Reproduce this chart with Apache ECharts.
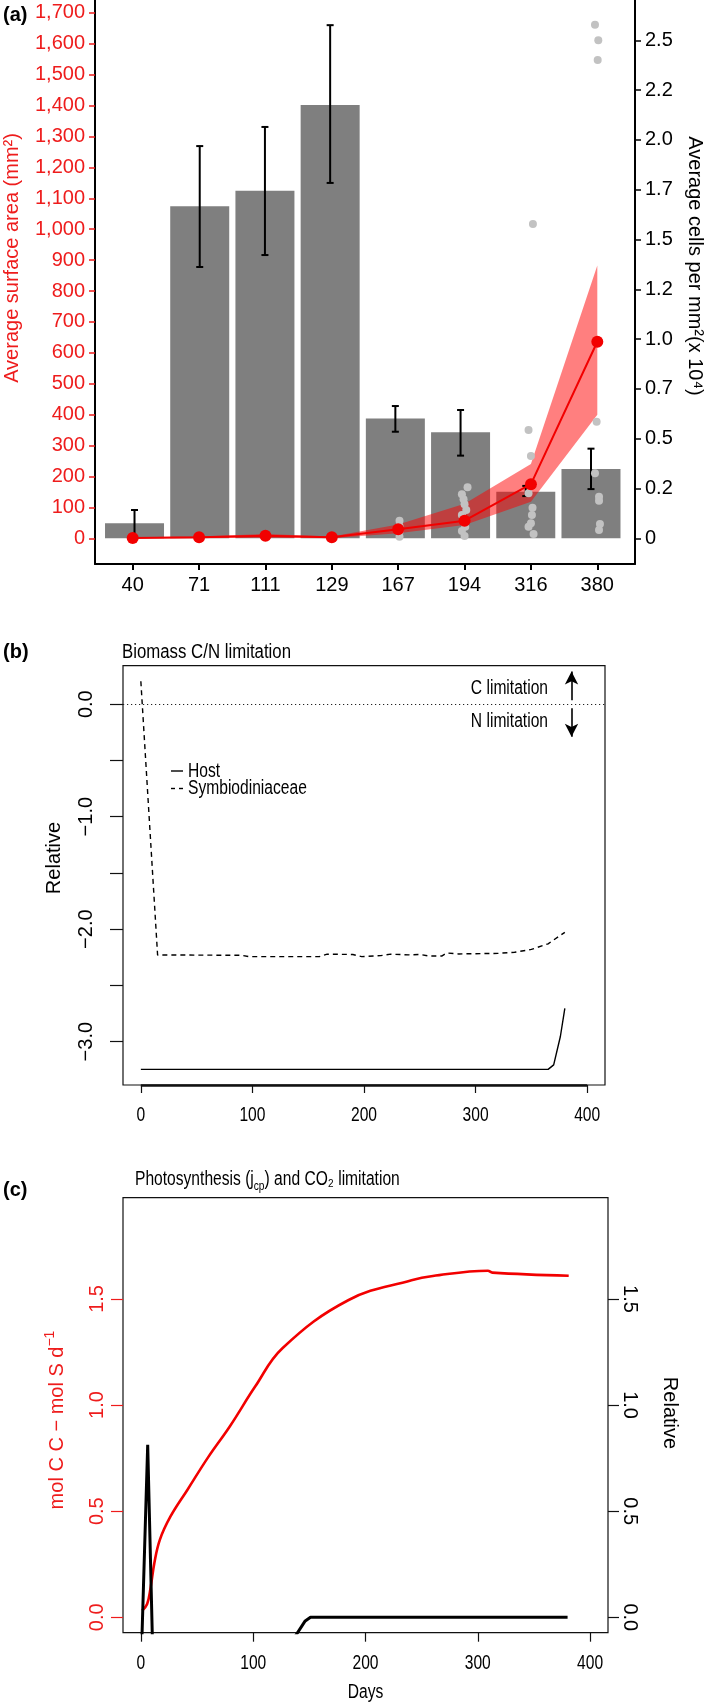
<!DOCTYPE html>
<html><head><meta charset="utf-8">
<script src="https://cdn.jsdelivr.net/npm/echarts@6.0.0/dist/echarts.min.js"></script>
<style>html,body{margin:0;padding:0;background:#fff}#c{width:709px;height:1703px}</style>
</head><body><div id="c"></div>
<script>
// ---------- Panel (a) ----------
const categories = ['40','71','111','129','167','194','316','380'];
const cellsMean  = [0.075,1.667,1.745,2.175,0.602,0.532,0.234,0.348];
const cellsLower = [0.005,1.362,1.422,1.784,0.535,0.415,0.212,0.247];
const cellsUpper = [0.142,1.969,2.065,2.576,0.664,0.644,0.263,0.450];
const areaMean   = [1,3,8,3,29,57,175,636];
const areaLower  = [0,0,2,0,16,43,118,400];
const areaUpper  = [3,6,14,6,45,112,240,883];
const pointGroup  = [4,4,4,4, 5,5,5,5,5,5,5,5,5, 6,6,6,6,6,6,6,6,6, 7,7,7,7,7,7,7,7,7];
const pointJitter = [0.02,0.02,0.02,0.02, 0.045,-0.04,-0.015,0,0.026,-0.04,0.01,-0.04,0,
                     0.03,-0.036,0,-0.036,0.024,0.015,0,-0.036,0.04,
                     -0.035,0.015,0.006,-0.01,-0.035,0.026,0.026,0.04,0.026];
const pointCells  = [0.088,0.06,0.033,0.008, 0.256,0.221,0.196,0.171,0.142,0.117,0.058,0.037,0.012,
                     1.578,0.544,0.413,0.226,0.154,0.117,0.075,0.058,0.022,
                     2.578,2.5,2.401,0.585,0.326,0.209,0.189,0.072,0.042];
const areaTicks = [0,100,200,300,400,500,600,700,800,900,1000,1100,1200,1300,1400,1500,1600,1700];
const areaTickLabels = ['0','100','200','300','400','500','600','700','800','900','1,000','1,100','1,200','1,300','1,400','1,500','1,600','1,700'];
const cellTicks = [0,0.25,0.5,0.75,1,1.25,1.5,1.75,2,2.25,2.5];
const cellTickLabels = ['0','0.2','0.5','0.7','1.0','1.2','1.5','1.7','2.0','2.2','2.5'];

// ---------- Panel (b) ----------
const hostDays = [0,365,370,376,380];
const hostRel  = [-3.246,-3.246,-3.206,-2.954,-2.703];
const symbDays = [0,15,90,97,160,167,190,198,215,224,240,250,258,270,274,285,320,335,350,365,380];
const symbRel  = [0.204,-2.229,-2.232,-2.244,-2.244,-2.222,-2.225,-2.244,-2.235,-2.222,-2.228,-2.225,-2.238,-2.238,-2.212,-2.22,-2.215,-2.205,-2.18,-2.13,-2.028];
const dayTicks = [0,100,200,300,400];
const dayTickLabels = ['0','100','200','300','400'];
const bRelTicks = [-3,-2.5,-2,-1.5,-1,-0.5,0];
const bRelLabelValues = [-3,-2,-1,0];
const bRelLabels = ['\u22123.0','\u22122.0','\u22121.0','0.0'];

// ---------- Panel (c) ----------
const photoDays = [1,5.5,8.5,11.9,16.8,26.3,41.3,60.2,79.1,101.7,126,185,241,260,309,313,381];
const photoRate = [0.031,0.063,0.137,0.255,0.365,0.475,0.600,0.757,0.899,1.087,1.268,1.495,1.588,1.608,1.633,1.624,1.609];
const co2Days = [0,6,12,130,146,151,380];
const co2Rel  = [-0.25,0.813,-0.5,-0.15,-0.019,0,0];
const cTicks = [0,0.5,1,1.5];
const cTickLabels = ['0.0','0.5','1.0','1.5'];

const FONT = "'Liberation Sans', Arial, Helvetica, sans-serif";
const RED = '#ee1c1c';
const LINE_RED = '#f20000';
const SQ = 0.78;   // horizontal squeeze of panels (b) and (c) text

const chart = echarts.init(document.getElementById('c'), null, {renderer:'canvas', width:709, height:1703});

const A = {left:95, top:0, width:540, height:564};
const B = {left:123, top:665.7, width:482, height:419.3};
const C = {left:123, top:1197.7, width:485, height:435};
const bYMin = -3.385, bYMax = 0.342;
const cYMin = -0.0726, cYMax = 1.977;

function lbl(color){ return {fontFamily:FONT, fontSize:20, color:color||'#000'}; }

function tickLabelSeries(xi, yi, yMin, offset){
  return {type:'custom', xAxisIndex:xi, yAxisIndex:yi, silent:true, clip:false,
    data:dayTicks.map(v=>[v, yMin]), encode:{x:0, y:1},
    renderItem:function(params, api){
      const p = api.coord([api.value(0), api.value(1)]);
      return {type:'text', x:p[0], y:p[1]+offset, scaleX:SQ,
        style:{text:dayTickLabels[params.dataIndex], font:'20px '+FONT, fill:'#000', align:'center', verticalAlign:'middle'}};
    }};
}

const option = {
  animation:false,
  backgroundColor:'#fff',
  grid:[
    Object.assign({containLabel:false, outerBoundsMode:'none'}, A),
    Object.assign({containLabel:false, outerBoundsMode:'none', show:true, borderColor:'#111', borderWidth:1.2, backgroundColor:'transparent'}, B),
    Object.assign({containLabel:false, outerBoundsMode:'none', show:true, borderColor:'#111', borderWidth:1.2, backgroundColor:'transparent'}, C)
  ],
  xAxis:[
    {gridIndex:0, type:'value', min:-0.568, max:7.568, position:'bottom',
      axisLine:{show:true, onZero:false, lineStyle:{color:'#000', width:2}},
      axisTick:{show:true, customValues:[0,1,2,3,4,5,6,7], length:6, lineStyle:{color:'#000', width:2}},
      axisLabel:Object.assign({show:true, customValues:[0,1,2,3,4,5,6,7], margin:11,
        formatter:v=>categories[Math.round(v)]}, lbl()),
      splitLine:{show:false}},
    {gridIndex:0, type:'value', min:-0.606, max:7.675, position:'top', show:false,
      axisLine:{onZero:false}, splitLine:{show:false}},
    {gridIndex:1, type:'value', min:-16, max:416,
      axisLine:{show:false, onZero:false},
      axisTick:{show:true, customValues:dayTicks, length:8, lineStyle:{color:'#111', width:1.2}},
      axisLabel:{show:false},
      splitLine:{show:false}},
    {gridIndex:2, type:'value', min:-16, max:416,
      axisLine:{show:false, onZero:false},
      axisTick:{show:true, customValues:dayTicks, length:9, lineStyle:{color:'#111', width:1.2}},
      axisLabel:{show:false},
      splitLine:{show:false}}
  ],
  yAxis:[
    {gridIndex:0, type:'value', min:-83.2, max:1741.7, position:'left',
      axisLine:{show:true, onZero:false, lineStyle:{color:'#000', width:2}},
      axisTick:{show:true, customValues:areaTicks, length:6, lineStyle:{color:RED, width:1.5}},
      axisLabel:Object.assign({show:true, customValues:areaTicks, margin:10,
        formatter:v=>areaTickLabels[areaTicks.indexOf(v)]}, lbl(RED)),
      splitLine:{show:false}},
    {gridIndex:0, type:'value', min:-0.129, max:2.7023, position:'right',
      axisLine:{show:true, onZero:false, lineStyle:{color:'#000', width:2}},
      axisTick:{show:true, customValues:cellTicks, length:6, lineStyle:{color:'#000', width:1.5}},
      axisLabel:Object.assign({show:true, customValues:cellTicks, margin:10,
        formatter:v=>cellTickLabels[cellTicks.indexOf(v)]}, lbl()),
      splitLine:{show:false}},
    {gridIndex:1, type:'value', min:bYMin, max:bYMax, position:'left',
      axisLine:{show:false, onZero:false},
      axisTick:{show:true, customValues:bRelTicks, length:13, lineStyle:{color:'#111', width:1.2}},
      axisLabel:Object.assign({show:true, customValues:bRelLabelValues, margin:27, rotate:90,
        formatter:v=>bRelLabels[bRelLabelValues.indexOf(v)]}, lbl()),
      splitLine:{show:false}},
    {gridIndex:2, type:'value', min:cYMin, max:cYMax, position:'left',
      axisLine:{show:false, onZero:false},
      axisTick:{show:true, customValues:cTicks, length:12, lineStyle:{color:RED, width:1.2}},
      axisLabel:Object.assign({show:true, customValues:cTicks, margin:16, rotate:90,
        formatter:v=>cTickLabels[cTicks.indexOf(v)]}, lbl(RED)),
      splitLine:{show:false}},
    {gridIndex:2, type:'value', min:cYMin, max:cYMax, position:'right',
      axisLine:{show:false, onZero:false},
      axisTick:{show:true, customValues:cTicks, length:11, lineStyle:{color:'#111', width:1.2}},
      axisLabel:Object.assign({show:true, customValues:cTicks, margin:12, rotate:-90,
        formatter:v=>cTickLabels[cTicks.indexOf(v)]}, lbl()),
      splitLine:{show:false}}
  ],
  series:[
    {type:'bar', xAxisIndex:1, yAxisIndex:1, barWidth:59, z:1,
      itemStyle:{color:'#7f7f7f'},
      data:cellsMean.map((v,i)=>[i,v])},
    {type:'custom', xAxisIndex:0, yAxisIndex:0, z:2,
      data:areaMean.map((v,i)=>[i,areaLower[i],areaUpper[i]]),
      encode:{x:0, y:[1,2]},
      renderItem:function(params, api){
        if (params.dataIndex !== 0) return null;
        const pts=[];
        for (let i=0;i<areaUpper.length;i++) pts.push(api.coord([i, areaUpper[i]]));
        for (let i=areaLower.length-1;i>=0;i--) pts.push(api.coord([i, areaLower[i]]));
        return {type:'polygon', shape:{points:pts}, style:{fill:'rgba(255,0,0,0.5)'}};
      }},
    {type:'custom', xAxisIndex:1, yAxisIndex:1, z:3,
      data:cellsMean.map((v,i)=>[i,cellsLower[i],cellsUpper[i]]),
      encode:{x:0, y:[1,2]},
      renderItem:function(params, api){
        const x=api.value(0), lo=api.coord([x, api.value(1)]), hi=api.coord([x, api.value(2)]);
        const c=3.5, st={stroke:'#000', lineWidth:2};
        return {type:'group', children:[
          {type:'line', shape:{x1:lo[0],y1:lo[1],x2:hi[0],y2:hi[1]}, style:st},
          {type:'line', shape:{x1:hi[0]-c,y1:hi[1],x2:hi[0]+c,y2:hi[1]}, style:st},
          {type:'line', shape:{x1:lo[0]-c,y1:lo[1],x2:lo[0]+c,y2:lo[1]}, style:st}
        ]};
      }},
    {type:'scatter', xAxisIndex:0, yAxisIndex:1, z:4, symbolSize:8,
      itemStyle:{color:'#c2c2c2', opacity:1},
      data:pointCells.map((v,i)=>[pointGroup[i]+pointJitter[i], v])},
    {type:'line', xAxisIndex:0, yAxisIndex:0, z:5, symbol:'circle', symbolSize:12, showSymbol:true,
      lineStyle:{color:LINE_RED, width:2}, itemStyle:{color:LINE_RED},
      data:areaMean.map((v,i)=>[i,v])},

    {type:'line', xAxisIndex:2, yAxisIndex:2, showSymbol:false, symbol:'none',
      lineStyle:{color:'#000', width:1.4},
      data:hostDays.map((d,i)=>[d,hostRel[i]]),
      markLine:{silent:true, symbol:'none', label:{show:false},
        lineStyle:{color:'#111', width:2.6, type:'solid'},
        data:[[{coord:[dayTicks[0], bYMin]},{coord:[dayTicks[dayTicks.length-1], bYMin]}]]}},
    {type:'line', xAxisIndex:2, yAxisIndex:2, showSymbol:false, symbol:'none',
      lineStyle:{color:'#000', width:1.4, type:[5,4]},
      data:symbDays.map((d,i)=>[d,symbRel[i]]),
      markLine:{silent:true, symbol:'none', label:{show:false},
        lineStyle:{color:'#222', width:1.2, type:[1.2,2.8]},
        data:[{yAxis:0}]}},
    {type:'line', xAxisIndex:2, yAxisIndex:2, data:[],
      markLine:{silent:true, symbol:['none','arrow'], symbolSize:[10,13], label:{show:false},
        lineStyle:{color:'#000', width:1.6, type:'solid'},
        data:[[{coord:[386,0.036]},{coord:[386,0.29]}],[{coord:[386,-0.036]},{coord:[386,-0.29]}]]}},
    tickLabelSeries(2, 2, bYMin, 30),

    {type:'line', xAxisIndex:3, yAxisIndex:3, showSymbol:false, symbol:'none', smooth:0.4,
      lineStyle:{color:LINE_RED, width:2.6},
      data:photoDays.map((d,i)=>[d,photoRate[i]])},
    {type:'line', xAxisIndex:3, yAxisIndex:4, showSymbol:false, symbol:'none', clip:true,
      lineStyle:{color:'#000', width:3},
      data:co2Days.map((d,i)=>[d,co2Rel[i]])},
    tickLabelSeries(3, 3, cYMin, 30.5)
  ],
  graphic:[
    {type:'text', x:3, y:15, style:{text:'(a)', font:'bold 20px '+FONT, fill:'#000', verticalAlign:'middle'}},
    {type:'text', x:12, y:258, rotation:Math.PI/2,
      style:{text:'Average surface area (mm\u00B2)', font:'20px '+FONT, fill:RED, align:'center', verticalAlign:'middle'}},
    {type:'text', x:695, y:266, rotation:-Math.PI/2,
      style:{text:'Average cells per mm\u00B2(x 10\u2074)', font:'20px '+FONT, fill:'#000', align:'center', verticalAlign:'middle'}},

    {type:'text', x:3, y:652, style:{text:'(b)', font:'bold 20px '+FONT, fill:'#000', verticalAlign:'middle'}},
    {type:'text', x:122, y:652, scaleX:0.84, style:{text:'Biomass C/N limitation', font:'20px '+FONT, fill:'#000', verticalAlign:'middle'}},
    {type:'text', x:54, y:858, rotation:Math.PI/2,
      style:{text:'Relative', font:'20px '+FONT, fill:'#000', align:'center', verticalAlign:'middle'}},
    {type:'text', x:548, y:688, scaleX:SQ, style:{text:'C limitation', font:'20px '+FONT, fill:'#000', align:'right', verticalAlign:'middle'}},
    {type:'text', x:548, y:721, scaleX:SQ, style:{text:'N limitation', font:'20px '+FONT, fill:'#000', align:'right', verticalAlign:'middle'}},
    {type:'line', shape:{x1:171,y1:771,x2:183,y2:771}, style:{stroke:'#000', lineWidth:1.4}},
    {type:'text', x:188, y:771, scaleX:SQ, style:{text:'Host', font:'20px '+FONT, fill:'#000', verticalAlign:'middle'}},
    {type:'line', shape:{x1:171,y1:788.5,x2:183,y2:788.5}, style:{stroke:'#000', lineWidth:1.4, lineDash:[4,4]}},
    {type:'text', x:188, y:788.5, scaleX:SQ, style:{text:'Symbiodiniaceae', font:'20px '+FONT, fill:'#000', verticalAlign:'middle'}},

    {type:'text', x:3, y:1190, style:{text:'(c)', font:'bold 20px '+FONT, fill:'#000', verticalAlign:'middle'}},
    {type:'text', x:135, y:1179, scaleX:SQ, style:{text:'Photosynthesis (j{sub|cp}) and CO\u2082 limitation', font:'20px '+FONT, fill:'#000', verticalAlign:'middle',
      rich:{sub:{fontSize:13, fontFamily:FONT, verticalAlign:'bottom', lineHeight:13}}, lineHeight:28}},
    {type:'text', x:57, y:1420, rotation:Math.PI/2,
      style:{text:'mol C C \u2212 mol S d{sup|\u22121}', font:'20px '+FONT, fill:RED, align:'center', verticalAlign:'middle',
        rich:{sup:{fontSize:14, fontFamily:FONT, fill:RED, verticalAlign:'top', lineHeight:14}}, lineHeight:28}},
    {type:'text', x:670, y:1413, rotation:-Math.PI/2,
      style:{text:'Relative', font:'20px '+FONT, fill:'#000', align:'center', verticalAlign:'middle'}},
    {type:'text', x:365.5, y:1692, scaleX:SQ, style:{text:'Days', font:'20px '+FONT, fill:'#000', align:'center', verticalAlign:'middle'}}
  ]
};
chart.setOption(option);
</script></body></html>
